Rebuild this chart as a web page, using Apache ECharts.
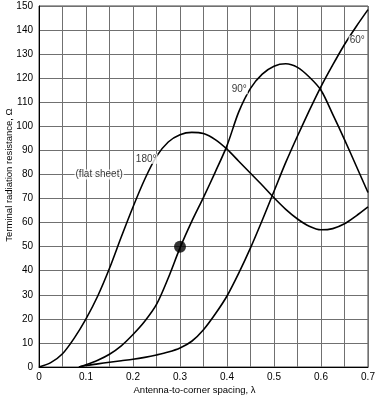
<!DOCTYPE html>
<html>
<head>
<meta charset="utf-8">
<script src="https://cdn.jsdelivr.net/npm/echarts@6/dist/echarts.min.js"></script>
<style>html,body{margin:0;padding:0;background:#fff}#c{width:376px;height:397px}</style>
</head>
<body>
<div id="c"></div>
<script>
const xTicks = [0, 0.1, 0.2, 0.3, 0.4, 0.5, 0.6, 0.7];
const curve180 = [[0,0],[0.025,1.8],[0.05,5.5],[0.075,12],[0.1,20],[0.125,29.5],[0.15,41],[0.175,54],[0.2,66.5],[0.225,78],[0.25,87.5],[0.275,93.5],[0.3,96.5],[0.325,97.5],[0.35,97],[0.375,94.5],[0.4,90.5],[0.425,85.5],[0.45,80.5],[0.475,75.5],[0.5,70.3],[0.525,65.5],[0.55,61.5],[0.575,58.5],[0.6,57],[0.625,57.5],[0.65,59.5],[0.675,62.8],[0.7,66.5]];
const curve90 = [[0.085,0],[0.1,0.9],[0.125,2.8],[0.15,5.3],[0.175,8.8],[0.2,13.5],[0.225,19],[0.25,26],[0.275,37],[0.3,49.5],[0.325,60.5],[0.35,70.5],[0.375,81],[0.4,92],[0.425,106],[0.45,115.8],[0.475,121.7],[0.5,125],[0.525,126],[0.55,124.5],[0.575,120.5],[0.6,115],[0.625,105],[0.65,94.5],[0.675,83.5],[0.7,72.5]];
const curve60 = [[0.085,0],[0.1,0.6],[0.125,1.3],[0.15,2],[0.175,2.6],[0.2,3.2],[0.225,4],[0.25,5],[0.275,6.2],[0.3,7.9],[0.325,10.7],[0.35,15.5],[0.375,22],[0.4,29.5],[0.425,39],[0.45,49.5],[0.475,61],[0.5,73],[0.525,85],[0.55,96],[0.575,106.5],[0.6,116.5],[0.625,125.5],[0.65,134],[0.675,141.5],[0.7,148.5]];
const markedPoint = [[0.3, 50]];
const annotations = [
  {text: '180°', x: 0.228, y: 86.5},
  {text: '(flat sheet)', x: 0.128, y: 80},
  {text: '90°', x: 0.426, y: 115.4},
  {text: '60°', x: 0.677, y: 135.7}
];
const xTitle = 'Antenna-to-corner spacing, λ';
const yTitle = 'Terminal radiation resistance, Ω';

const font = 'Liberation Sans, Arial, sans-serif';
const chart = echarts.init(document.getElementById('c'));
const lineStyle = {color: '#000', width: 1.6};
function curve(d) {
  return {type: 'line', data: d, smooth: 0.3, showSymbol: false, symbol: 'none', lineStyle: lineStyle, z: 3, animation: false};
}
chart.setOption({
  animation: false,
  grid: {left: 39, right: 8, top: 6, bottom: 30, containLabel: false, outerBoundsMode: 'none', show: true, borderColor: '#444', borderWidth: 1},
  xAxis: {
    type: 'value', min: 0, max: 0.7, interval: 0.1,
    axisLine: {show: true, lineStyle: {color: '#000', width: 1}},
    axisTick: {show: false},
    axisLabel: {fontFamily: font, fontSize: 10, color: '#000', margin: 5},
    splitLine: {show: true, lineStyle: {color: '#707070', width: 1}},
    minorTick: {show: false, splitNumber: 2},
    minorSplitLine: {show: true, lineStyle: {color: '#707070', width: 1}}
  },
  yAxis: {
    type: 'value', min: 0, max: 150, interval: 10,
    axisLine: {show: true, lineStyle: {color: '#000', width: 1}},
    axisTick: {show: false},
    axisLabel: {fontFamily: font, fontSize: 10, color: '#000', margin: 6},
    splitLine: {show: true, lineStyle: {color: '#707070', width: 1}}
  },
  graphic: [
    {type: 'text', x: 194.5, y: 390.5, style: {text: xTitle, font: '9.5px ' + font, fill: '#000', textAlign: 'center', textVerticalAlign: 'middle'}},
    {type: 'text', x: 9.5, y: 175, rotation: Math.PI / 2, style: {text: yTitle, font: '9.5px ' + font, fill: '#000', textAlign: 'center', textVerticalAlign: 'middle'}}
  ],
  series: [
    curve(curve180), curve(curve90), curve(curve60),
    {type: 'scatter', data: markedPoint, symbolSize: 12, itemStyle: {color: '#000'}, z: 4},
    {type: 'scatter', data: annotations.map(a => ({value: [a.x, a.y], label: {formatter: a.text}})),
     symbolSize: 0, z: 5,
     label: {show: true, position: 'inside', fontFamily: font, fontSize: 10, color: '#000', backgroundColor: '#fff', padding: [0, 1]}}
  ]
});
</script>
</body>
</html>
